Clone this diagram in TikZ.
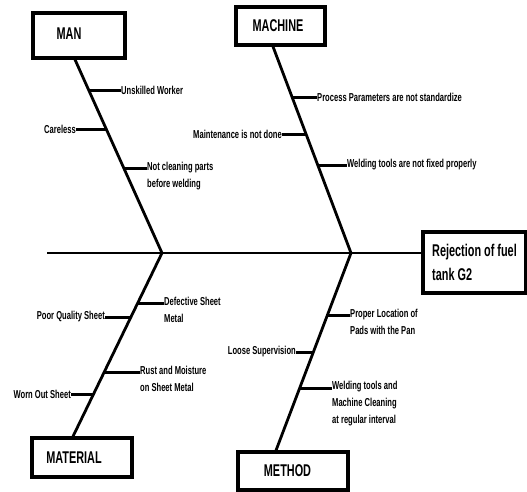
\documentclass[tikz,border=0pt]{standalone}
\usepackage{fontspec}
\newfontfamily\cnd{Liberation Sans Bold}[FakeStretch=0.66]
\newfontfamily\tcnd{Liberation Sans Bold}[FakeStretch=0.64]
\begin{document}
\begin{tikzpicture}[x=1pt,y=-1pt,
  box/.style={draw, line width=3.2pt, inner sep=0pt, font=\tcnd\fontsize{17}{24}\selectfont},
  lbl/.style={font=\cnd\fontsize{11.5}{17}\selectfont, inner sep=0pt, align=left},
  bone/.style={line width=2.8pt},
  rib/.style={line width=3pt}]
\useasboundingbox (0,0) rectangle (527,491);
% boxes
\node[box, minimum width=92pt, minimum height=45pt] (man) at (79,35.5) {\raisebox{4pt}{MAN}\hspace*{20pt}};
\node[box, minimum width=89pt, minimum height=38pt] (mach) at (280.5,26) {MACHINE\hspace*{5pt}};
\node[box, minimum width=100pt, minimum height=39pt] (mat) at (82,457.5) {MATERIAL\hspace*{16pt}};
\node[box, minimum width=110pt, minimum height=38pt] (meth) at (293,471) {METHOD\hspace*{11pt}};
\node[box, minimum width=103pt, minimum height=61pt, align=left] (rej) at (474.5,262.5) {Rejection of fuel\\tank G2};
% spine and bones
\coordinate (spL) at (47,253);
\coordinate (j1) at (162,253);
\coordinate (j2) at (351,253);
\draw[bone] (spL) -- (spL -| rej.west);
\draw[bone] ([xshift=-4pt]man.south) -- (j1);
\draw[bone] ([xshift=-7.5pt]mach.south) -- (j2);
\draw[bone] (j1) -- ([xshift=-9pt]mat.north);
\draw[bone] (j2) -- ([xshift=-17pt]meth.north);
% MAN causes
\node[lbl, anchor=west] (a1) at (121,90) {Unskilled Worker};
\coordinate (ra1) at (89.3,90);
\draw[rib] (ra1) -- (a1.west);
\node[lbl, anchor=east] (a2) at (76,129) {Careless};
\coordinate (ra2) at (106.7,129);
\draw[rib] (ra2) -- (a2.east);
\node[lbl, anchor=north west] (a3) at (147,162) {Not cleaning parts\\before welding};
\coordinate (ra3) at (124.1,168);
\draw[rib] (ra3) -- (ra3 -| a3.west);
% MACHINE causes
\node[lbl, anchor=west] (b1) at (317,97) {Process Parameters are not standardize};
\coordinate (rb1) at (292.5,97);
\draw[rib] (rb1) -- (b1.west);
\node[lbl, anchor=east] (b2) at (282,134) {Maintenance is not done};
\coordinate (rb2) at (306.4,134);
\draw[rib] (rb2) -- (b2.east);
\node[lbl, anchor=west] (b3) at (347,165) {Welding tools are not fixed properly};
\coordinate (rb3) at (318,165);
\draw[rib] (rb3) -- (b3.west);
% MATERIAL causes
\node[lbl, anchor=north west] (c1) at (164,297) {Defective Sheet\\Metal};
\coordinate (rc1) at (138,303);
\draw[rib] (rc1) -- (rc1 -| c1.west);
\node[lbl, anchor=east] (c2) at (105,317) {Poor Quality Sheet};
\coordinate (rc2) at (131.2,317);
\draw[rib] (rc2) -- (c2.east);
\node[lbl, anchor=north west] (c3) at (140,366) {Rust and Moisture\\on Sheet Metal};
\coordinate (rc3) at (104.8,372);
\draw[rib] (rc3) -- (rc3 -| c3.west);
\node[lbl, anchor=east] (c4) at (71,394) {Worn Out Sheet};
\coordinate (rc4) at (94.2,394);
\draw[rib] (rc4) -- (c4.east);
% METHOD causes
\node[lbl, anchor=north west] (d1) at (350,309) {Proper Location of\\Pads with the Pan};
\coordinate (rd1) at (327.5,315);
\draw[rib] (rd1) -- (rd1 -| d1.west);
\node[lbl, anchor=east] (d2) at (296,352) {Loose Supervision};
\coordinate (rd2) at (313.5,352);
\draw[rib] (rd2) -- (d2.east);
\node[lbl, anchor=north west] (d3) at (332,381) {Welding tools and\\Machine Cleaning\\at regular interval};
\coordinate (rd3) at (299.9,388);
\draw[rib] (rd3) -- (rd3 -| d3.west);
\end{tikzpicture}
\end{document}
